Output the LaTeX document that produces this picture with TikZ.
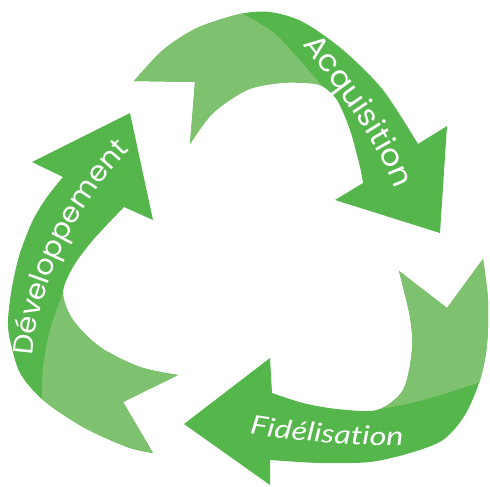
\documentclass[tikz,border=0pt]{standalone}
\usepackage{fontspec}
\usetikzlibrary{decorations.text}
\newfontfamily\poppA[FakeStretch=1.05]{Poppins}
\newfontfamily\poppB[FakeStretch=1.03]{Poppins}
\newfontfamily\latof[FakeStretch=1.25]{Lato}
\definecolor{gdark}{RGB}{85,182,76}
\definecolor{glight}{RGB}{126,194,112}
\def\arrA{(134,-81) -- plot[smooth] coordinates {(134,-81) (163,-50) (197,-28) (240,-14) (270,-12) (303,-22) (343,-50) (383,-90) (418,-144)} -- (447,-126) -- (440,-233) -- (335,-200) -- plot[smooth] coordinates {(363,-183) (360,-167) (350,-130) (337,-100) (322,-86) (307,-83) (280,-83) (247,-90) (213,-113) (190,-144)} -- (195,-82) -- cycle}
\def\arrB{(130,-113) -- (153,-220) -- plot[smooth] coordinates {(124,-207) (93,-240) (73,-267) (63,-293) (73,-320) (100,-347) (140,-367) (178,-375)} -- (123,-402) -- plot[smooth] coordinates {(153,-453) (127,-447) (83,-427) (43,-400) (20,-373) (10,-340) (8,-320) (12,-287) (20,-253) (33,-220) (47,-197) (63,-177)} -- (32,-162) -- cycle}
\def\arrC{(483,-259) -- plot[smooth] coordinates {(483,-259) (488,-300) (487,-345) (480,-380) (465,-415) (443,-440) (410,-453) (370,-462) (320,-463) (270,-460)} -- (270,-485) -- (184,-424) -- (270,-358) -- plot[smooth] coordinates {(272,-393) (303,-403) (337,-409) (377,-410) (403,-390) (412,-350) (410,-317) (399,-271)} -- (447,-308) -- cycle}
\tikzset{
  dark/.style={fill=gdark},
  light/.style={fill=glight},
  lbl/.style={decorate, decoration={text along path, text align=center, text color=white}}
}
\begin{document}
\begin{tikzpicture}[x=1pt,y=1pt]
\useasboundingbox (0,0) rectangle (490,-487);
% arrows
\fill[dark] \arrA;
\fill[dark] \arrB;
\fill[dark] \arrC;
% light halves
\begin{scope}
\clip \arrA;
\fill[light] (235,0) -- plot[smooth] coordinates {(243,-14) (273,-32) (297,-57) (317,-80) (322,-86)} -- (325,-92) -- (150,-200) -- (100,0) -- cycle;
\end{scope}
\begin{scope}
\clip \arrB;
\fill[light] (70,-275) -- plot[smooth] coordinates {(63,-293) (50,-330) (43,-367) (42,-400)} -- (40,-420) -- (200,-500) -- (200,-280) -- cycle;
\end{scope}
\begin{scope}
\clip \arrC;
\fill[light] (370,-240) -- (370,-400) -- plot[smooth] coordinates {(377,-410) (423,-400) (478,-383)} -- (495,-378) -- (495,-240) -- cycle;
\end{scope}
% labels
\path[lbl, decoration={text={|\poppA\fontsize{30}{32}\selectfont|Acquisition}}]
  (300,-41) -- (307,-50) .. controls (330,-80) and (374,-135) .. (393,-183) -- (397,-193);
\path[lbl, decoration={text={|\poppB\fontsize{28}{30}\selectfont|Développement}}]
  (32,-366) -- (33,-354) .. controls (37,-290) and (75,-205) .. (130,-150) -- (137,-143);
\path[lbl, decoration={text={|\latof\itshape\fontsize{26}{30}\selectfont|Fidélisation}}]
  (235,-431.5) -- (245,-433) .. controls (290,-440) and (350,-447) .. (408,-445) -- (418,-444.7);
\end{tikzpicture}
\end{document}
